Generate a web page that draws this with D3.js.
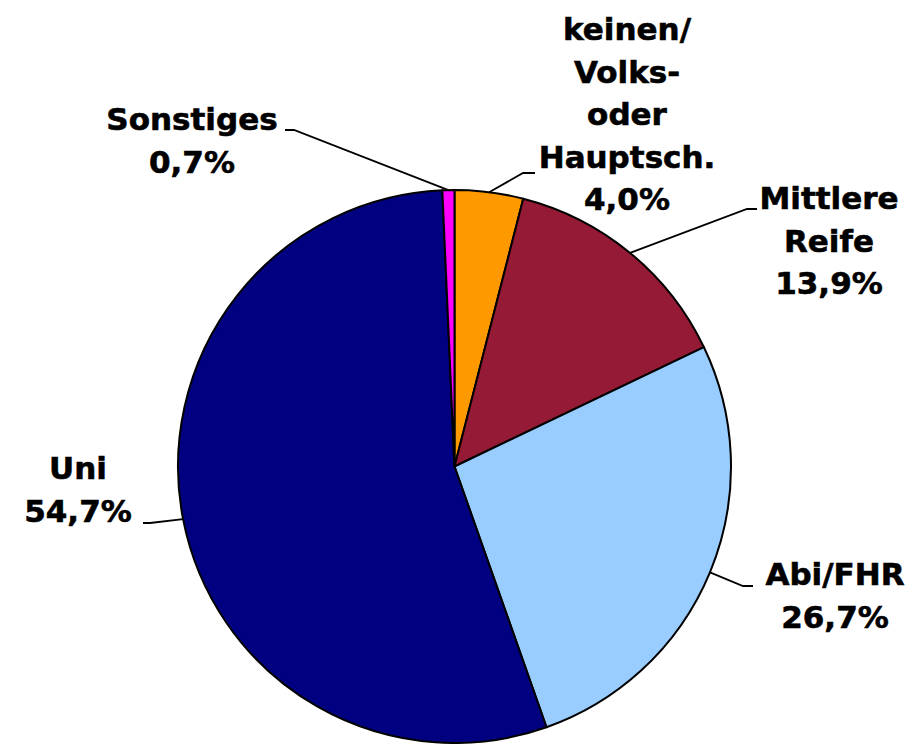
<!DOCTYPE html>
<html>
<head>
<meta charset="utf-8">
<script src="https://cdn.jsdelivr.net/npm/d3@7"></script>
<style>
  html, body { margin: 0; padding: 0; background: #fff; }
  .lbl { font-family: "DejaVu Sans", Verdana, sans-serif; font-weight: bold; font-size: 31px; fill: #000; stroke: #000; stroke-width: 0.6px; }
</style>
</head>
<body>
<div class="graph"></div>
<script>
// Schulabschluss – Anteile (im Uhrzeigersinn ab 12 Uhr)
const categories = ['keinen/ Volks- oder Hauptsch.', 'Mittlere Reife', 'Abi/FHR', 'Uni', 'Sonstiges']
const values = [4.0, 13.9, 26.7, 54.7, 0.7]
const labelLines = [
  ['keinen/', 'Volks-', 'oder', 'Hauptsch.', '4,0%'],
  ['Mittlere', 'Reife', '13,9%'],
  ['Abi/FHR', '26,7%'],
  ['Uni', '54,7%'],
  ['Sonstiges', '0,7%']
]
const colors = ['#FF9900', '#951A35', '#99CCFF', '#000080', '#FF00FF']

// label layout: text center x, first baseline y, leader elbow + end
const labelPos = [
  { x: 627, y: 40, elbow: [523, 173], end: [535, 173] },
  { x: 829, y: 209, elbow: [747, 209], end: [757, 209] },
  { x: 835, y: 585, elbow: [743, 586], end: [753, 586] },
  { x: 78, y: 479, elbow: [150, 523], end: [143, 523] },
  { x: 192, y: 130, elbow: [294, 130], end: [285, 130] }
]

const BaseData = {
  width: 914,
  height: 744,
  cx: 454.5,
  cy: 466.5,
  radius: 276.5,
  lineStep: 42.5,
}

const svg = d3.select('.graph')
  .append('svg')
  .attr('width', BaseData.width)
  .attr('height', BaseData.height)

const pie = d3.pie().sort(null).value(d => d)
const arcs = pie(values)

const arc = d3.arc().innerRadius(0).outerRadius(BaseData.radius)
const edgeArc = d3.arc().innerRadius(BaseData.radius).outerRadius(BaseData.radius)

const g = svg.append('g')
  .attr('transform', `translate(${BaseData.cx},${BaseData.cy})`)

// slices
g.selectAll('path.slice')
  .data(arcs)
  .enter()
  .append('path')
  .attr('class', 'slice')
  .attr('d', arc)
  .attr('fill', (d, i) => colors[i])
  .attr('stroke', '#000')
  .attr('stroke-width', 2)
  .attr('stroke-linejoin', 'round')

// leader lines
svg.selectAll('polyline.leader')
  .data(arcs)
  .enter()
  .append('polyline')
  .attr('class', 'leader')
  .attr('fill', 'none')
  .attr('stroke', '#000')
  .attr('stroke-width', 1.8)
  .attr('points', (d, i) => {
    let c = edgeArc.centroid(d)
    let p = labelPos[i]
    let start = [c[0] + BaseData.cx, c[1] + BaseData.cy]
    return [start, p.elbow, p.end].map(q => q.join(',')).join(' ')
  })

// labels
const labels = svg.selectAll('text.lbl')
  .data(arcs)
  .enter()
  .append('text')
  .attr('class', 'lbl')
  .attr('text-anchor', 'middle')
  .attr('x', (d, i) => labelPos[i].x)
  .attr('y', (d, i) => labelPos[i].y)

labels.each(function (d, i) {
  d3.select(this).selectAll('tspan')
    .data(labelLines[i])
    .enter()
    .append('tspan')
    .attr('x', labelPos[i].x)
    .attr('dy', (t, j) => j == 0 ? 0 : BaseData.lineStep)
    .text(t => t)
})
</script>
</body>
</html>
